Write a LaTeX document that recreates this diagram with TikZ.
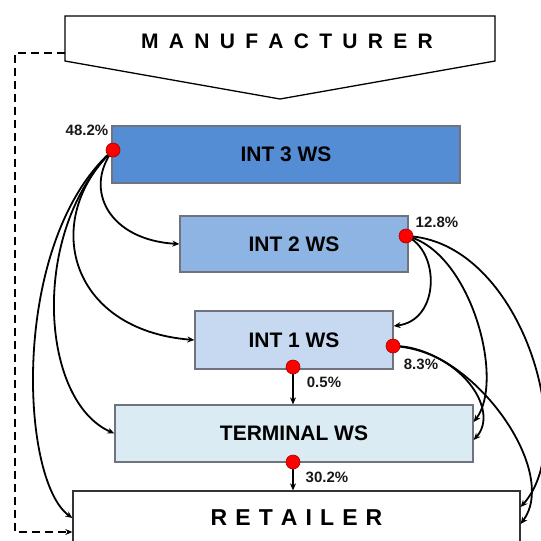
\documentclass[tikz,border=0pt]{standalone}
\usepackage{fontspec}
\setmainfont{Liberation Sans}
\usetikzlibrary{arrows.meta}
\definecolor{cIntThree}{RGB}{84,141,212}
\definecolor{cIntTwo}{RGB}{141,180,226}
\definecolor{cIntOne}{RGB}{198,217,241}
\definecolor{cTerm}{RGB}{218,235,243}
\definecolor{cEdge}{RGB}{110,115,125}
\newcommand\mk{\kern10.3pt}
\newcommand\rk{\kern8.1pt}
\begin{document}
\begin{tikzpicture}[x=1pt,y=-1pt,
  wsbox/.style={draw=cEdge, line width=1.3pt, rectangle, inner sep=0pt,
    font=\fontsize{21}{24}\selectfont\bfseries},
  reddot/.style={circle, fill=red, draw=red!65!black, line width=0.6pt, minimum size=14pt, inner sep=0pt},
  pct/.style={font=\fontsize{15}{17}\selectfont\bfseries, text=black!90, inner sep=0pt},
  flow/.style={line width=1.8pt, -{Stealth[length=7pt,width=6pt]}},
  dashflow/.style={line width=1.8pt, dash pattern=on 8pt off 5pt, -{Stealth[length=7pt,width=6pt]}}
]
\useasboundingbox (0,0) rectangle (541,541);
\begin{scope}
\clip (0,0) rectangle (541,541);
% manufacturer
\draw[line width=1.3pt, fill=white] (65,16) -- (495,16) -- (495,61) -- (280,99) -- (65,61) -- cycle;
\node[font=\fontsize{21}{24}\selectfont\bfseries, inner sep=0pt] (man) at (287,41) {M\mk A\mk N\mk U\mk F\mk A\mk C\mk T\mk U\mk R\mk E\mk R};
\coordinate (manL) at (65,53);
% boxes
\node[wsbox, fill=cIntThree, minimum width=348pt, minimum height=57pt] (int3) at (286,154.5) {INT 3 WS};
\node[wsbox, fill=cIntTwo, minimum width=228pt, minimum height=56pt] (int2) at (294,244) {INT 2 WS};
\node[wsbox, fill=cIntOne, minimum width=198pt, minimum height=58pt] (int1) at (294,340) {INT 1 WS};
\node[wsbox, fill=cTerm, minimum width=358pt, minimum height=57pt] (term) at (294,433.5) {TERMINAL WS};
\node[draw=black!80, line width=1.3pt, fill=white, minimum width=447pt, minimum height=54pt, inner sep=0pt,
  font=\fontsize{23}{26}\selectfont\bfseries] (ret) at (296.5,518) {R\rk E\rk T\rk A\rk I\rk L\rk E\rk R};
% dot positions
\coordinate (p3) at (113,150);
\coordinate (p2) at (406,236);
\coordinate (p1) at (393,346);
\coordinate (pb) at (293,367);
\coordinate (pt) at (293,462);
% dashed
\draw[dashflow] (manL) -- (15,53) -- (15,532) -- ([yshift=-14pt]ret.west);
% flows from INT3
\draw[flow] (p3) .. controls +(-30,40) and +(-70,-4) .. (int2.west);
\draw[flow] (p3) .. controls +(-73,70) and +(-125,-10) .. (int1.west);
\draw[flow] (p3) .. controls +(-83,80) and +(-75,-33) .. (term.west);
\draw[flow] (p3) .. controls +(-103,90) and +(-53,-38) .. (ret.west);
% flows from INT2
\draw[flow] (p2) .. controls +(34,14) and +(47,-6) .. ([yshift=14pt]int1.east);
\draw[flow] (p2) .. controls +(64,14) and +(32,-42) .. ([yshift=11.5pt]term.east);
\draw[flow] (p2) .. controls +(114,4) and +(60,-67) .. ([yshift=11pt]ret.east);
% flows from INT1
\draw[flow] (p1) .. controls +(67,4) and +(27,-30) .. ([yshift=-6.5pt]term.east);
\draw[flow] (p1) .. controls +(77,-1) and +(40,-54) .. ([yshift=-6pt]ret.east);
% vertical
\draw[flow] (pb) -- (pb |- term.north);
\draw[flow] (pt) -- (pt |- ret.north);
% dots
\node[reddot] (d3) at (p3) {};
\node[reddot] (d2) at (p2) {};
\node[reddot] (d1) at (p1) {};
\node[reddot] (db) at (pb) {};
\node[reddot] (dt) at (pt) {};
% labels
\node[pct] (l3) at (87,130) {48.2\%};
\node[pct] (l2) at (437,222) {12.8\%};
\node[pct] (l1) at (421,364) {8.3\%};
\node[pct] (lb) at (324,382) {0.5\%};
\node[pct] (lt) at (327,477) {30.2\%};
\end{scope}
\end{tikzpicture}
\end{document}
